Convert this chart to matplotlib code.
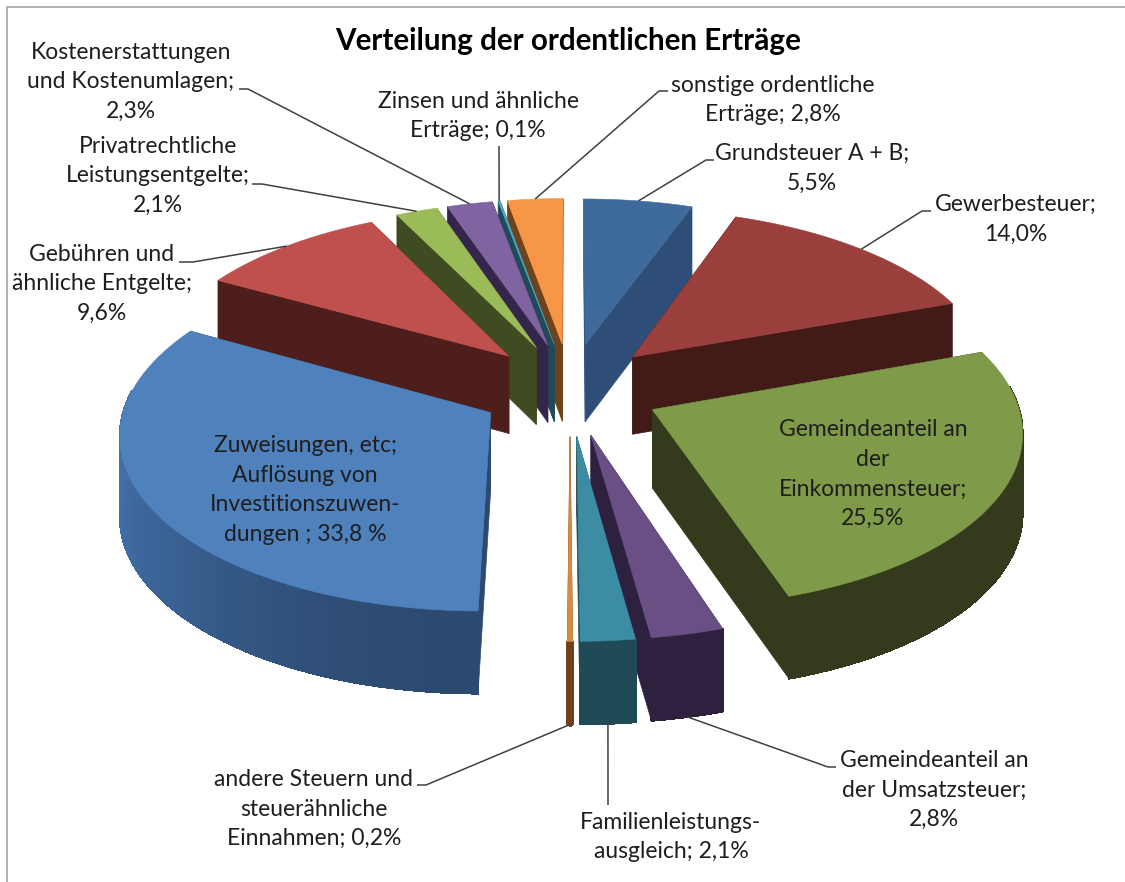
#
# Exploded 3D pie "Verteilung der ordentlichen Ertraege", drawn with plain polygons.
# Saves the figure as out.png
#
import numpy as np
import matplotlib
matplotlib.use('Agg')
import matplotlib.pyplot as plt
from matplotlib.patches import Polygon

names = ["Grundsteuer", "Gewerbesteuer", "Einkommensteuer", "Umsatzsteuer", "Familienleistung",
         "andere Steuern", "Zuweisungen", "Gebuehren", "Privatrechtlich", "Kostenerstattung",
         "Zinsen", "sonstige"]
# the labels add up to 100,8; the big blue slice is drawn at about 33,0 in the picture
values = [5.5, 14.0, 25.5, 2.8, 2.1, 0.2, 33.0, 9.6, 2.1, 2.3, 0.1, 2.8]
top_colors = ["#3E6A9C", "#9A3F3C", "#7F9A48", "#6A4F85", "#3C8CA4", "#D98A3E",
              "#4F81BD", "#C0504D", "#9BBB59", "#8064A2", "#4BACC6", "#F79646"]
wall_colors = ["#2F4E77", "#421A18", "#333B1C", "#2E2140", "#1F4A56", "#6E431B",
               "#2C4A70", "#4E1E1C", "#3F4B20", "#33264A", "#1F4A56", "#6E431B"]
label_texts = ["Grundsteuer A + B;\n5,5%", "Gewerbesteuer;\n14,0%",
               "Gemeindeanteil an\nder\nEinkommensteuer;\n25,5%",
               "Gemeindeanteil an\nder Umsatzsteuer;\n2,8%", "Familienleistungs-\nausgleich; 2,1%",
               "andere Steuern und\nsteuerähnliche\nEinnahmen; 0,2%",
               "Zuweisungen, etc;\nAuflösung von\nInvestitionszuwen-\ndungen ; 33,8 %",
               "Gebühren und\nähnliche Entgelte;\n9,6%", "Privatrechtliche\nLeistungsentgelte;\n2,1%",
               "Kostenerstattungen\nund Kostenumlagen;\n2,3%", "Zinsen und ähnliche\nErträge; 0,1%",
               "sonstige ordentliche\nErträge; 2,8%"]
label_pos = [(812, 168), (1016, 219), (873, 474), (934, 790), (671, 837), (314, 809), (305, 490),
             (102, 284), (158, 176), (131, 82), (478, 116), (773, 100)]
# elbow of each leader line, None when the label sits on the slice
elbows = [(706, 160), (922, 211), None, (828, 767), (608, 805), (426, 785), None,
          (193, 262), (262, 184), (248, 89), (499, 146), (659, 91)]
elbow_ends = [(714, 160), (931, 211), None, (836, 767), (608, 805), (417, 785), None,
              (179, 262), (252, 184), (239, 89), (499, 146), (668, 91)]

cx, cy = 570, 389
rx, ry = 362, 171
persp = 0.11
explode_x = 0.25
explode_y = 0.27
depth = 78


def project(x, y, z=0.0):
    # x to the right, y towards the viewer, z = 1 is the bottom of the pie
    s = 1.0 / (1.0 - persp * y)
    return cx + x * rx * s, cy + y * ry * s + z * (depth + 4 * y)


def shade(color, f):
    rgb = np.array(matplotlib.colors.to_rgb(color))
    return tuple(np.clip(rgb * f, 0, 1))


fig = plt.figure(figsize=(11.25, 8.82), dpi=100)
ax = fig.add_axes([0, 0, 1, 1])
ax.set_xlim(0, 1125)
ax.set_ylim(882, 0)
ax.axis('off')
plt.rcParams['font.family'] = ['Lato', 'DejaVu Sans']

fractions = np.array(values) / np.sum(values)
edges = np.concatenate([[0], np.cumsum(fractions)]) * 2 * np.pi
mids = (edges[:-1] + edges[1:]) / 2
order = np.argsort(-np.cos(mids))


def arc(i, n=61):
    a = np.linspace(edges[i], edges[i + 1], n)
    ox = explode_x * np.sin(mids[i])
    oy = -explode_y * np.cos(mids[i])
    return a, ox, oy, ox + np.sin(a), oy - np.cos(a)


for i in order:
    a, ox, oy, arc_x, arc_y = arc(i)
    for px, py in [(arc_x[0], arc_y[0]), (arc_x[-1], arc_y[-1])]:
        wall = [project(ox, oy), project(px, py), project(px, py, 1), project(ox, oy, 1)]
        ax.add_patch(Polygon(wall, closed=True, fc=wall_colors[i], ec=wall_colors[i], lw=0.5))
    visible = -np.cos(a) > -0.15
    if visible.sum() > 1:
        # smooth edge first, the shaded strips go on top without antialiasing
        upper = [project(u, v) for u, v in zip(arc_x[visible], arc_y[visible])]
        lower = [project(u, v, 1) for u, v in zip(arc_x[visible], arc_y[visible])]
        ax.add_patch(Polygon(upper + lower[::-1], closed=True, fc=wall_colors[i], ec=wall_colors[i], lw=0.5))
        for k in np.where(visible[:-1] & visible[1:])[0]:
            # outer wall gets lighter towards the left
            f = 1.0 + 0.5 * max(0, -np.sin(a[k])) ** 2
            quad = [project(arc_x[k], arc_y[k]), project(arc_x[k + 1], arc_y[k + 1]),
                    project(arc_x[k + 1], arc_y[k + 1], 1), project(arc_x[k], arc_y[k], 1)]
            c = shade(wall_colors[i], f)
            ax.add_patch(Polygon(quad, closed=True, fc=c, ec=c, lw=0.8, antialiased=False))
    top = [project(ox, oy)] + [project(u, v) for u, v in zip(arc_x, arc_y)]
    ax.add_patch(Polygon(top, closed=True, fc=top_colors[i], ec=top_colors[i], lw=0.4))

leader = "#404040"
for i in range(len(values)):
    if elbows[i] is None:
        continue
    a, ox, oy, arc_x, arc_y = arc(i)
    front = np.cos(mids[i]) < -0.5
    start = project(arc_x[30], arc_y[30], 1 if front else 0)
    ex, ey = elbows[i]
    fx, fy = elbow_ends[i]
    ax.plot([start[0], ex, fx], [start[1], ey, fy], color=leader, lw=1.1, solid_capstyle='butt')

for text, (x, y) in zip(label_texts, label_pos):
    ax.text(x, y, text, ha='center', va='center', fontsize=16.5, color='#1e1e1e', linespacing=1.52)

ax.text(568, 41, "Verteilung der ordentlichen Erträge", ha='center', va='center',
        fontsize=21.3, fontweight='bold', color='black')

# chart frame, only the top and left sides are in the picture
ax.plot([1125, 7, 7], [7, 7, 882], color='#a6a6a6', lw=1.2)

fig.savefig('out.png', dpi=100)
